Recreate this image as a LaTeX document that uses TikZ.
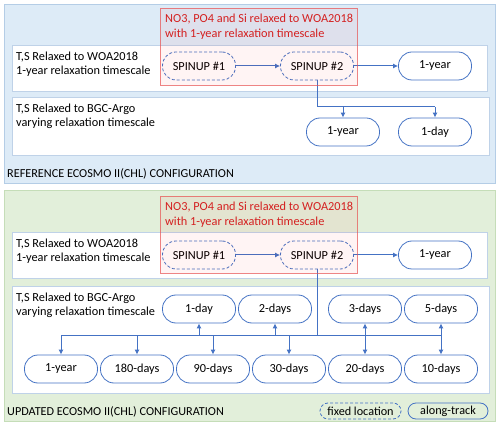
\documentclass[tikz,border=0pt]{standalone}
\usepackage{fontspec}
\setmainfont{Carlito}
\usetikzlibrary{arrows.meta}
\begin{document}
\begin{tikzpicture}[x=1pt,y=-1pt,
  panelblue/.style={draw=blueborder,fill=bluefill,line width=0.8pt},
  panelgreen/.style={draw=greenborder,fill=greenfill,line width=0.8pt},
  inner/.style={draw=innerborder,fill=white,line width=0.8pt},
  redbox/.style={draw=redline,fill=red,fill opacity=0.045,draw opacity=0.7,line width=0.7pt},
  pill/.style={draw=nodeblue,line width=0.8pt,rounded corners=13.5pt,minimum width=73pt,minimum height=28pt,inner sep=0pt,font=\fontsize{12.3}{14}\selectfont},
  fixedpill/.style={pill,dashed,dash pattern=on 3pt off 2pt},
  legpill/.style={draw=nodeblue,line width=0.8pt,rounded corners=8pt,minimum height=16pt,inner sep=0pt,font=\fontsize{12.2}{13}\selectfont},
  conn/.style={draw=nodeblue,line width=1pt,-{Latex[length=5pt,width=5pt]}},
  dconn/.style={draw=nodeblue,line width=1pt,{Latex[length=5pt,width=5pt]}-{Latex[length=5pt,width=5pt]}},
  line/.style={draw=nodeblue,line width=1pt},
  lbl/.style={anchor=west,align=left,inner sep=0pt,font=\fontsize{12.3}{14.2}\selectfont},
  redlbl/.style={anchor=north west,align=left,inner sep=0pt,text=redtext,font=\fontsize{12.3}{15}\selectfont},
  cfg/.style={anchor=west,inner sep=0pt,font=\fontsize{12.2}{13}\selectfont},
]
\definecolor{bluefill}{HTML}{DDEBF7}
\definecolor{blueborder}{HTML}{B4CDE6}
\definecolor{greenfill}{HTML}{E2EFDA}
\definecolor{greenborder}{HTML}{C5DDB8}
\definecolor{innerborder}{HTML}{BFD2E8}
\definecolor{nodeblue}{HTML}{4472C4}
\definecolor{redline}{HTML}{E85050}
\definecolor{redtext}{HTML}{D42020}
\useasboundingbox (0,0) rectangle (500,427);
% ---------------- top panel
\path[panelblue] (4,4) rectangle (495,183);
\path[inner] (12,45) rectangle (487,91);
\path[inner] (12,97) rectangle (489,155);
\node[lbl] (ta) at (16,64) {T,S Relaxed to WOA2018\\1-year relaxation timescale};
\node[lbl] (tb) at (16,116) {T,S Relaxed to BGC-Argo\\varying relaxation timescale};
\node[cfg] (tref) at (7,174) {REFERENCE ECOSMO II(CHL) CONFIGURATION};
\node[fixedpill] (s1) at (199,66) {SPINUP \#1};
\node[fixedpill] (s2) at (317,66) {SPINUP \#2};
\node[pill] (y1) at (435,66) {1-year};
\node[pill] (y2) at (343,132) {1-year};
\node[pill] (d1) at (435,132) {1-day};
\draw[conn] (s1) -- (s2);
\draw[conn] (s2) -- (y1);
\coordinate (j1) at (317,107);
\draw[line] (s2.south) -- (j1) -- (j1 -| d1.north);
\draw[conn] (j1 -| y2.north) -- (y2.north);
\draw[conn] (j1 -| d1.north) -- (d1.north);
\path[redbox] (160,8) rectangle (357,85);
\node[redlbl] (r1) at (165,13.5) {NO3, PO4 and Si relaxed to WOA2018\\with 1-year relaxation timescale};
% ---------------- bottom panel
\path[panelgreen] (4,190) rectangle (495,421);
\path[inner] (12,232) rectangle (487,278);
\path[inner] (12,286) rectangle (489,393);
\node[lbl] (tc) at (16,251) {T,S Relaxed to WOA2018\\1-year relaxation timescale};
\node[lbl] (td) at (16,305) {T,S Relaxed to BGC-Argo\\varying relaxation timescale};
\node[cfg] (tupd) at (7,412) {UPDATED ECOSMO II(CHL) CONFIGURATION};
\node[fixedpill] (u1) at (199,255) {SPINUP \#1};
\node[fixedpill] (u2) at (317,255) {SPINUP \#2};
\node[pill] (uy) at (435,255) {1-year};
\draw[conn] (u1) -- (u2);
\draw[conn] (u2) -- (uy);
\node[pill] (a1) at (199,309) {1-day};
\node[pill] (a2) at (275,309) {2-days};
\node[pill] (a3) at (365,309) {3-days};
\node[pill] (a5) at (441,309) {5-days};
\node[pill] (b1) at (61,369) {1-year};
\node[pill] (b2) at (137,369) {180-days};
\node[pill] (b3) at (213,369) {90-days};
\node[pill] (b4) at (289,369) {30-days};
\node[pill] (b5) at (365,369) {20-days};
\node[pill] (b6) at (441,369) {10-days};
\coordinate (j2) at (317,335);
\draw[line] (u2.south) -- (j2);
\draw[line] (j2 -| b1.north) -- (j2 -| b6.north);
\draw[conn] (j2 -| a1.south) -- (a1.south);
\draw[conn] (j2 -| a2.south) -- (a2.south);
\draw[conn] (j2 -| b1.north) -- (b1.north);
\draw[conn] (j2 -| b2.north) -- (b2.north);
\draw[conn] (j2 -| b3.north) -- (b3.north);
\draw[conn] (j2 -| b4.north) -- (b4.north);
\draw[dconn] (a3.south) -- (b5.north);
\draw[dconn] (a5.south) -- (b6.north);
\path[redbox] (160,196) rectangle (357,273);
\node[redlbl] (r2) at (165,201.5) {NO3, PO4 and Si relaxed to WOA2018\\with 1-year relaxation timescale};
% legend
\node[legpill,dashed,dash pattern=on 3pt off 2pt,minimum width=81pt] (lf) at (360.5,411) {fixed location};
\node[legpill,minimum width=80pt] (la) at (448,411) {along-track};
\end{tikzpicture}
\end{document}
